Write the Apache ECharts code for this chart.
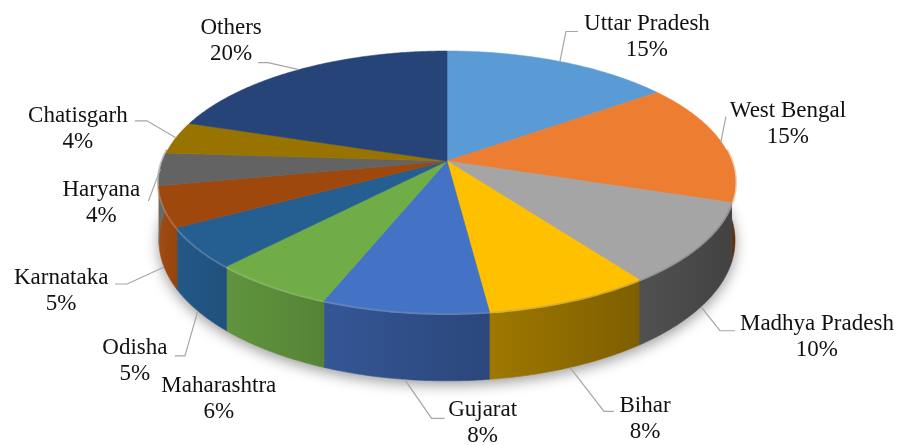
<!DOCTYPE html>
<html>
<head>
<meta charset="utf-8">
<script src="https://cdn.jsdelivr.net/npm/echarts@6/dist/echarts.min.js"></script>
<style>
  html, body { margin: 0; padding: 0; background: #ffffff; }
  #chart { width: 901px; height: 445px; }
</style>
</head>
<body>
<div id="chart"></div>
<script>
// Share of each state (percent), listed clockwise from 12 o'clock
const states = ['Uttar Pradesh', 'West Bengal', 'Madhya Pradesh', 'Bihar', 'Gujarat',
  'Maharashtra', 'Odisha', 'Karnataka', 'Haryana', 'Chatisgarh', 'Others'];
const shares = [15, 15, 10, 8, 8, 6, 5, 5, 4, 4, 20];
const sliceColors = ['#5B9BD5', '#ED7D31', '#A5A5A5', '#FFC000', '#4472C4',
  '#70AD47', '#255E91', '#9E480E', '#636363', '#997300', '#264478'];

// Label placement: text centre relative to the slice's rim anchor (dx, dy),
// leader attach point relative to the text centre (ax, ay), horizontal hook length
const labelLayout = [
  { dx: 87,   dy: -25, ax: -69, ay: -5, hook: 12 },
  { dx: 67,   dy: -18, ax: -62, ay: -7, hook: 0 },
  { dx: 116,  dy: 30,  ax: -82, ay: -6, hook: 15 },
  { dx: 75,   dy: 52,  ax: -31, ay: -8, hook: 10 },
  { dx: 78,   dy: 44,  ax: -38, ay: -5, hook: 13 },
  { dx: -52,  dy: 47,  leader: false },
  { dx: -63,  dy: 50,  ax: 40,  ay: -5, hook: -10 },
  { dx: -103, dy: 24,  ax: 54,  ay: -7, hook: -12 },
  { dx: -59,  dy: 34,  ax: 47,  ay: -2, hook: 0 },
  { dx: -98,  dy: -9,  ax: 57,  ay: -8, hook: -12 },
  { dx: -68,  dy: -29, ax: 27,  ay: 22, hook: -10 }
];

const total = shares.reduce((a, b) => a + b, 0);
const starts = [];
shares.reduce((acc, v) => { starts.push(acc); return acc + v; }, 0);

// Tilted disc geometry (perspective view of a short cylinder)
const CX = 447, CY = 161, RX = 284.3, RY = 127.6, PERSP = 0.1603, THICK = 57;

function project(phiDeg, depth) {
  const p = phiDeg * Math.PI / 180;
  const u = Math.sin(p), v = -Math.cos(p);
  const w = 1 - PERSP * v;
  return [CX + RX * u / w, CY + RY * v / w + depth * THICK / w];
}
function arc(a0, a1, depth) {
  const pts = [];
  const n = Math.max(2, Math.ceil(Math.abs(a1 - a0) / 0.5));
  for (let i = 0; i <= n; i++) pts.push(project(a0 + (a1 - a0) * i / n, depth));
  return pts;
}
function shade(hex, f) {
  const n = parseInt(hex.slice(1), 16);
  let c = [(n >> 16) & 255, (n >> 8) & 255, n & 255];
  if (f <= 1) c = c.map(x => Math.round(x * f));
  else c = c.map(x => Math.round(x + (255 - x) * (f - 1)));
  return 'rgb(' + c.join(',') + ')';
}
// side wall lit from the left, darker towards the right
function sideFactor(phi) {
  return Math.min(1.05, Math.max(0.4, 0.41 + (phi - 126) * 0.0046));
}

const labelFont = '"Liberation Serif", "Times New Roman", serif';

function renderSlice(params, api) {
  const i = params.dataIndex;
  const start = api.value(0), val = api.value(1);
  const a0 = start / total * 360, a1 = (start + val) / total * 360;
  const color = sliceColors[i];
  const children = [];

  if (i === 0) {
    // soft drop shadow under the disc
    children.push({
      type: 'polygon', z2: 0,
      shape: { points: arc(0, 360, 1) },
      style: { fill: '#c8c8c8', shadowBlur: 14, shadowColor: 'rgba(0,0,0,0.4)', shadowOffsetY: 4 }
    });
  }

  // visible side wall (front half)
  const s0 = Math.max(a0, 85), s1 = Math.min(a1, 275);
  if (s1 > s0) {
    const topEdge = arc(s0, s1, 0);
    const pts = topEdge.concat(arc(s1, s0, 1));
    const grad = new echarts.graphic.LinearGradient(0, 0, 1, 0, [
      { offset: 0, color: shade(color, sideFactor(s1)) },
      { offset: 1, color: shade(color, sideFactor(s0)) }
    ]);
    children.push({
      type: 'polygon', z2: 1,
      shape: { points: pts },
      style: { fill: grad, stroke: grad, lineWidth: 0.6 }
    });
    children.push({
      type: 'polyline', z2: 2,
      shape: { points: topEdge },
      style: { stroke: shade(color, 1.35), lineWidth: 4, opacity: 0.6, fill: null }
    });
  }

  // top face
  children.push({
    type: 'polygon', z2: 3,
    shape: { points: [[CX, CY]].concat(arc(a0, a1, 0)) },
    style: { fill: color, stroke: color, lineWidth: 0.6 }
  });

  // data label with leader line
  const mid = (a0 + a1) / 2;
  const anchor = project(mid, (mid > 95 && mid < 265) ? 1 : 0);
  const lay = labelLayout[i];
  const tx = anchor[0] + lay.dx, ty = anchor[1] + lay.dy;
  if (lay.leader !== false) {
    const attach = [tx + lay.ax, ty + lay.ay];
    const elbow = [attach[0] - lay.hook, attach[1]];
    children.push({
      type: 'polyline', z2: 4,
      shape: { points: [anchor, elbow, attach] },
      style: { stroke: '#a6a6a6', lineWidth: 1.2, fill: null }
    });
  }
  children.push({
    type: 'text', z2: 5, x: tx, y: ty,
    style: {
      text: states[i] + '\n' + val + '%',
      fill: '#111111',
      fontFamily: labelFont,
      fontSize: 23,
      lineHeight: 26,
      align: 'center',
      verticalAlign: 'middle'
    }
  });

  return { type: 'group', children };
}

const chart = echarts.init(document.getElementById('chart'), null, { renderer: 'canvas' });
chart.setOption({
  animation: false,
  backgroundColor: '#ffffff',
  series: [{
    type: 'custom',
    coordinateSystem: 'none',
    renderItem: renderSlice,
    data: shares.map((v, i) => ({ name: states[i], value: [starts[i], v] }))
  }]
});
</script>
</body>
</html>
